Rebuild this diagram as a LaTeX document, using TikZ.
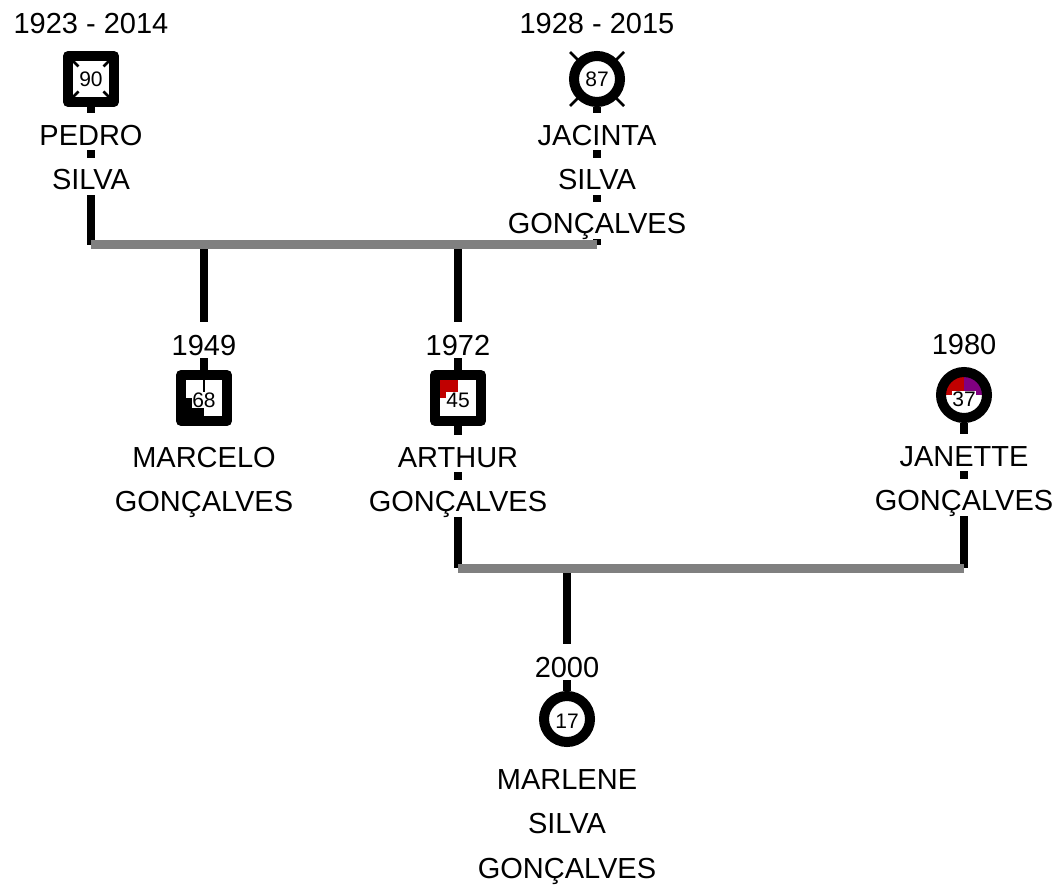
\documentclass[tikz,border=0pt]{standalone}
\usepackage{fontspec}
\setmainfont{Liberation Sans}
\usetikzlibrary{positioning}
\definecolor{ared}{HTML}{C00000}
\definecolor{apurple}{HTML}{800080}

\begin{document}
\begin{tikzpicture}[
	x=1pt, y=-1pt,
	node distance=7pt,
	male/.style={rectangle, draw, line width=10pt, line join=round, fill=white,
		minimum size=46pt, inner sep=0pt},
	female/.style={circle, draw, line width=10pt, fill=white,
		minimum size=46pt, inner sep=0pt},
	age/.style={fill=white, inner sep=0.5pt, text height=14.5pt, text depth=0pt,
		font=\fontsize{21}{21}\selectfont},
	namelbl/.style={fill=white, inner sep=0pt, text height=32pt, text depth=5pt,
		font=\fontsize{29}{29}\selectfont},
	yearlbl/.style={fill=white, inner sep=0pt, text height=34pt, text depth=2pt,
		font=\fontsize{29}{29}\selectfont},
	link/.style={line width=8pt},
	union/.style={draw=gray, line width=9pt},
	cross/.style={line width=2.5pt},
	qnw/.style={path picture={\fill[#1] (path picture bounding box.center)
		rectangle (path picture bounding box.north west);}},
	qsw/.style={path picture={\fill[#1] (path picture bounding box.center)
		rectangle (path picture bounding box.south west);}}
	]
	\useasboundingbox (0,0) rectangle (1062,885);

	% generation 1
	\node[male] (pedro) at (91,79) {};
	\node[female] (jacinta) at (597,79) {};
	% generation 2
	\node[male, qsw=black] (marcelo) at (204,398) {};
	\node[male, qnw=ared] (arthur) at (458,398) {};
	\node[female, path picture={
		\fill[ared] (path picture bounding box.center) rectangle (path picture bounding box.north west);
		\fill[apurple] (path picture bounding box.center) rectangle (path picture bounding box.north east);}]
		(janette) at (964,395) {};
	% generation 3
	\node[female] (marlene) at (567,719) {};

	% deceased marks
	\foreach \sx in {-1,1}
		\foreach \sy in {-1,1} {
			\draw[cross] (pedro.center) ++(\sx*19,\sy*19) -- ++(\sx*-6.5,\sy*-6.5);
			\draw[cross] (jacinta.center) ++(\sx*27,\sy*27) -- ++(\sx*-14,\sy*-14);
		}
	\draw[cross] (marcelo.center) -- (marcelo.north);

	\node[age] (pedro-age) at (pedro) {90};
	\node[age] (jacinta-age) at (jacinta) {87};
	\node[age, yshift=-2pt] (marcelo-age) at (marcelo) {68};
	\node[age, yshift=-2pt] (arthur-age) at (arthur) {45};
	\node[age, yshift=-4pt] (janette-age) at (janette) {37};
	\node[age, yshift=-2pt] (marlene-age) at (marlene) {17};

	% unions
	\coordinate (u1) at (0,245);
	\coordinate (u2) at (0,568);
	\draw[link] (pedro.south) -- (pedro |- u1);
	\draw[link] (jacinta.south) -- (jacinta |- u1);
	\draw[link] (marcelo.north) -- (marcelo |- u1);
	\draw[link] (arthur.north) -- (arthur |- u1);
	\draw[link] (arthur.south) -- (arthur |- u2);
	\draw[link] (janette.south) -- (janette |- u2);
	\draw[link] (marlene.north) -- (marlene |- u2);
	\draw[union] (pedro |- u1) -- (jacinta |- u1);
	\draw[union] (arthur |- u2) -- (janette |- u2);

	% labels
	\node[yearlbl, above=15pt of pedro] (pedro-y) {1923 - 2014};
	\node[namelbl, below=6pt of pedro] (pedro-n1) {PEDRO};
	\node[namelbl, below=of pedro-n1] (pedro-n2) {SILVA};

	\node[yearlbl, above=15pt of jacinta] (jacinta-y) {1928 - 2015};
	\node[namelbl, below=6pt of jacinta] (jacinta-n1) {JACINTA};
	\node[namelbl, below=of jacinta-n1] (jacinta-n2) {SILVA};
	\node[namelbl, below=of jacinta-n2] (jacinta-n3) {GONÇALVES};

	\node[yearlbl, above=12pt of marcelo] (marcelo-y) {1949};
	\node[namelbl, below=9pt of marcelo] (marcelo-n1) {MARCELO};
	\node[namelbl, below=of marcelo-n1] (marcelo-n2) {GONÇALVES};

	\node[yearlbl, above=12pt of arthur] (arthur-y) {1972};
	\node[namelbl, below=9pt of arthur] (arthur-n1) {ARTHUR};
	\node[namelbl, below=of arthur-n1] (arthur-n2) {GONÇALVES};

	\node[yearlbl, above=10pt of janette] (janette-y) {1980};
	\node[namelbl, below=11pt of janette] (janette-n1) {JANETTE};
	\node[namelbl, below=of janette-n1] (janette-n2) {GONÇALVES};

	\node[yearlbl, above=11pt of marlene] (marlene-y) {2000};
	\node[namelbl, below=10pt of marlene] (marlene-n1) {MARLENE};
	\node[namelbl, below=of marlene-n1] (marlene-n2) {SILVA};
	\node[namelbl, below=of marlene-n2] (marlene-n3) {GONÇALVES};
\end{tikzpicture}
\end{document}
